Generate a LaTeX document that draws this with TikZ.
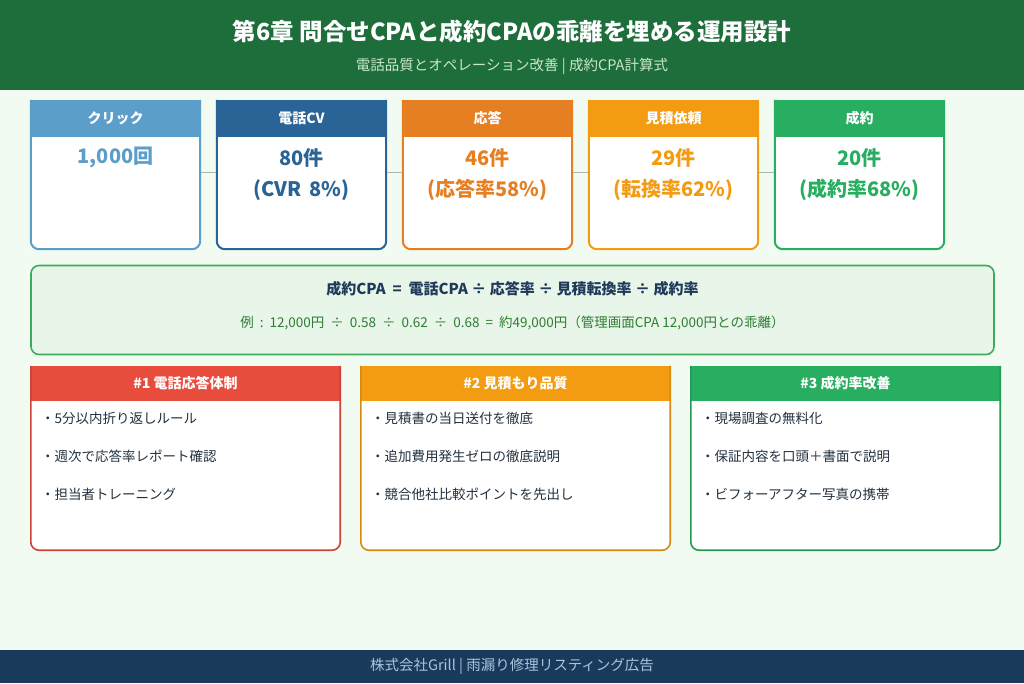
\documentclass[tikz,border=0pt]{standalone}
\usepackage{fontspec}
\usetikzlibrary{calc}
\setmainfont{Noto Sans CJK JP}
\definecolor{bg}{HTML}{F2FBF2}
\definecolor{hdr}{HTML}{1E6E3C}
\definecolor{subc}{HTML}{C8E6C9}
\definecolor{cA}{HTML}{5B9EC9}
\definecolor{cB}{HTML}{2A6496}
\definecolor{cC}{HTML}{E67E22}
\definecolor{cD}{HTML}{F39C12}
\definecolor{cE}{HTML}{27AE60}
\definecolor{cR}{HTML}{E74C3C}
\definecolor{fmfill}{HTML}{E8F5E9}
\definecolor{fmdraw}{HTML}{3CAB5E}
\definecolor{navy}{HTML}{1F3A5A}
\definecolor{fmgreen}{HTML}{2E7D32}
\definecolor{itemc}{HTML}{22313F}
\definecolor{foot}{HTML}{1A3A5C}
\definecolor{footc}{HTML}{A9C4DC}
\definecolor{conn}{HTML}{A8B8B0}
\newcommand{\opsp}{\hspace{6pt}}
\tikzset{
  fbox/.style={minimum width=169pt, minimum height=149pt, inner sep=0pt},
  cbox/.style={minimum width=309pt, minimum height=184pt, inner sep=0pt},
  hlabel/.style={text=white, font=\bfseries\fontsize{14}{16}\selectfont, inner sep=0pt},
  vlabel/.style={font=\bfseries\fontsize{20}{23}\selectfont, inner sep=0pt},
  clabel/.style={text=white, font=\bfseries\fontsize{14}{16}\selectfont, inner sep=0pt},
  item/.style={text=itemc, font=\fontsize{13.5}{16}\selectfont, anchor=west, inner sep=0pt},
  connector/.style={draw=conn, line width=0.8pt}
}
\begin{document}
\begin{tikzpicture}[x=1pt,y=-1pt]
\useasboundingbox (0,0) rectangle (1024,683);
\fill[bg] (0,0) rectangle (1024,683);
% header
\fill[hdr] (0,0) rectangle (1024,90);
\node[text=white, font=\bfseries\fontsize{23.5}{27}\selectfont] (title) at (512,32) {第6章 問合せCPAと成約CPAの乖離を埋める運用設計};
\node[text=subc, font=\fontsize{14.5}{17}\selectfont] (sub) at (512,66) {電話品質とオペレーション改善 | 成約CPA計算式};
% funnel boxes
\foreach \i/\cx/\col/\lab in {1/115.5/cA/クリック, 2/301.5/cB/電話CV, 3/487.5/cC/応答, 4/673.5/cD/見積依頼, 5/859.5/cE/成約}{
  \node[fbox] (f\i) at (\cx,174.5) {};
  \fill[white] (f\i.north west) rectangle (f\i.south east);
  \fill[\col] (f\i.north west) rectangle ($(f\i.north east)+(0,37)$);
  \draw[\col, line width=2pt, rounded corners=8pt] (f\i.north west) -- (f\i.south west) -- (f\i.south east) -- (f\i.north east);
  \node[hlabel] (h\i) at (\cx,118) {\lab};
}
\node[vlabel, text=cA] (v1) at (115.5,158) {1,000回};
\node[vlabel, text=cB] (v2a) at (301.5,158) {80件};
\node[vlabel, text=cB] (v2b) at (301.5,190) {(CVR\, 8\%)};
\node[vlabel, text=cC] (v3a) at (487.5,158) {46件};
\node[vlabel, text=cC] (v3b) at (487.5,190) {(応答率58\%)};
\node[vlabel, text=cD] (v4a) at (673.5,158) {29件};
\node[vlabel, text=cD] (v4b) at (673.5,190) {(転換率62\%)};
\node[vlabel, text=cE] (v5a) at (859.5,158) {20件};
\node[vlabel, text=cE] (v5b) at (859.5,190) {(成約率68\%)};
\foreach \a/\b in {1/2,2/3,3/4,4/5}{
  \draw[connector] ($(f\a.east)+(1,-2.5)$) -- ($(f\b.west)+(-1,-2.5)$);
}
% formula box
\node[draw=fmdraw, fill=fmfill, line width=1.6pt, rounded corners=8pt, minimum width=963pt, minimum height=89pt, inner sep=0pt] (fm) at (512.5,310) {};
\node[text=navy, font=\bfseries\fontsize{15}{17}\selectfont] (fm1) at (512.5,289) {成約CPA\ \ =\ \ 電話CPA\ ÷\ 応答率\ ÷\ 見積転換率\ ÷\ 成約率};
\node[text=fmgreen, font=\fontsize{13.5}{16}\selectfont] (fm2) at (512.5,323) {例\opsp:\opsp 12,000円\opsp÷\opsp 0.58\opsp÷\opsp 0.62\opsp÷\opsp 0.68\opsp=\opsp 約49,000円（管理画面CPA\ 12,000円との乖離）};
% cards
\foreach \i/\cx/\col/\lab in {1/185.5/cR/\#1\ 電話応答体制, 2/515.5/cD/\#2\ 見積もり品質, 3/845.5/cE/\#3\ 成約率改善}{
  \node[cbox] (c\i) at (\cx,458) {};
  \fill[white] (c\i.north west) rectangle (c\i.south east);
  \fill[\col] (c\i.north west) rectangle ($(c\i.north east)+(0,35)$);
  \draw[\col!88!black, line width=1.6pt, rounded corners=8pt] (c\i.north west) -- (c\i.south west) -- (c\i.south east) -- (c\i.north east);
  \node[clabel] (ch\i) at (\cx,383) {\lab};
}
\node[item] (i11) at (41,418) {・5分以内折り返しルール};
\node[item] (i12) at (41,456) {・週次で応答率レポート確認};
\node[item] (i13) at (41,494) {・担当者トレーニング};
\node[item] (i21) at (371,418) {・見積書の当日送付を徹底};
\node[item] (i22) at (371,456) {・追加費用発生ゼロの徹底説明};
\node[item] (i23) at (371,494) {・競合他社比較ポイントを先出し};
\node[item] (i31) at (701,418) {・現場調査の無料化};
\node[item] (i32) at (701,456) {・保証内容を口頭＋書面で説明};
\node[item] (i33) at (701,494) {・ビフォーアフター写真の携帯};
% footer
\fill[foot] (0,650) rectangle (1024,683);
\node[text=footc, font=\fontsize{14.5}{17}\selectfont] (ft) at (512,666) {株式会社Grill | 雨漏り修理リスティング広告};
\end{tikzpicture}
\end{document}
